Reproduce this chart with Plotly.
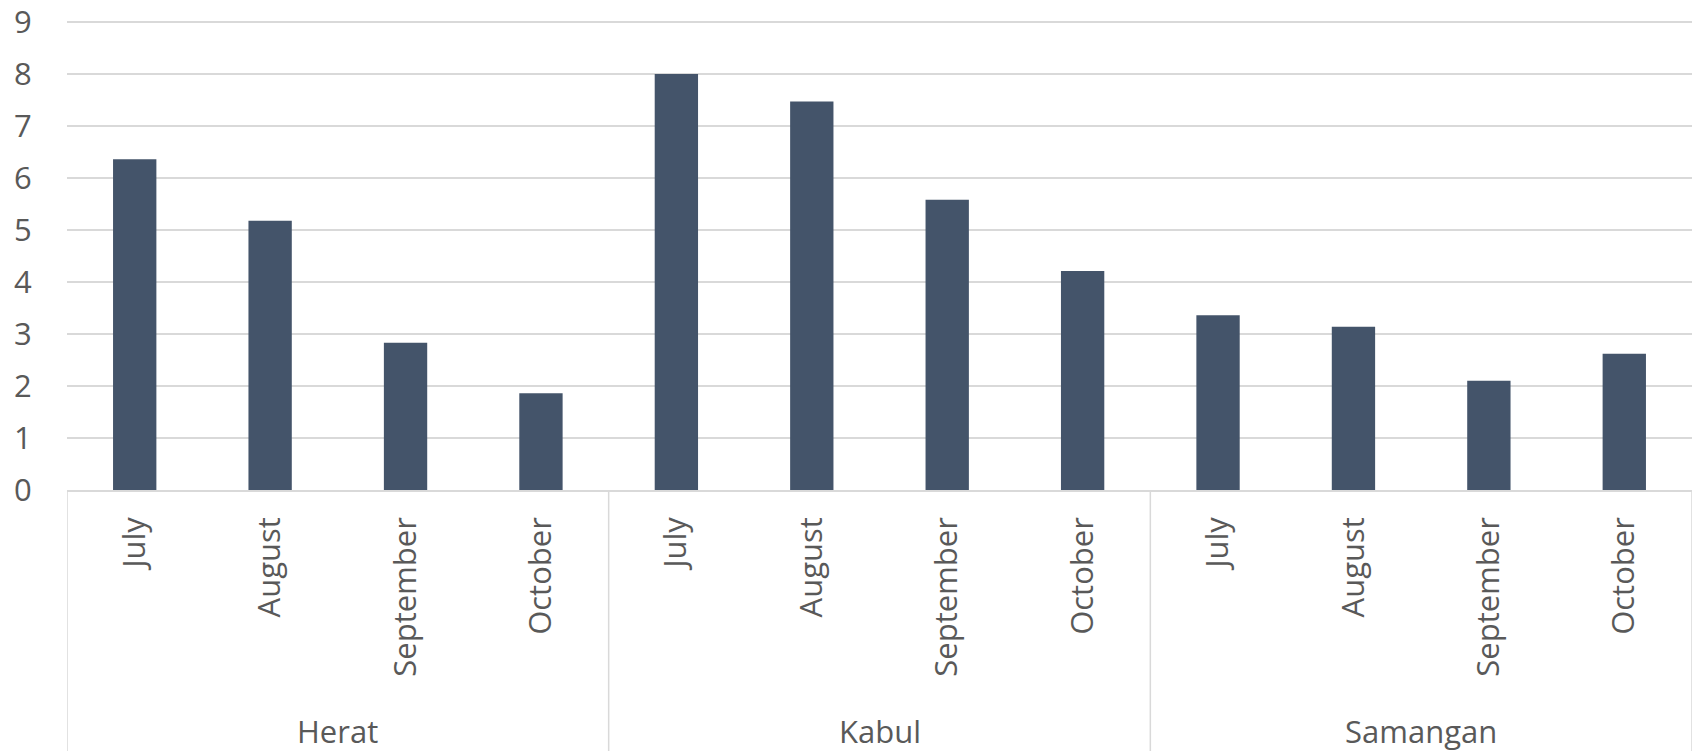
import plotly.graph_objects as go

regions = ["Herat", "Kabul", "Samangan"]
months = ["July", "August", "September", "October"]
herat = [6.36, 5.18, 2.83, 1.86]
kabul = [8.0, 7.47, 5.58, 4.21]
samangan = [3.36, 3.14, 2.10, 2.62]
y_ticks = [0, 1, 2, 3, 4, 5, 6, 7, 8, 9]

series = [herat, kabul, samangan]
values = [v for s in series for v in s]
labels = [m for _ in regions for m in months]
xpos = list(range(len(values)))

FONT = "Open Sans"
FS = 31
GRAY = "#595959"
LINE = "#d9d9d9"

fig = go.Figure()
fig.add_trace(go.Bar(
    x=xpos, y=values, width=0.32,
    marker=dict(color="#44546a", line=dict(width=0)),
    hoverinfo="y",
))

n = len(months)
shapes = []
annotations = []
for i, r in enumerate(regions):
    shapes.append(dict(type="line", xref="x", yref="paper",
                       x0=i * n - 0.5, x1=i * n - 0.5, y0=0, y1=-0.6,
                       line=dict(color=LINE, width=1.5)))
    annotations.append(dict(x=i * n + (n - 1) / 2, y=-0.512, xref="x", yref="paper",
                            text=r, showarrow=False, yanchor="middle",
                            font=dict(family=FONT, size=FS, color=GRAY)))
shapes.append(dict(type="line", xref="x", yref="paper",
                   x0=len(values) - 0.5, x1=len(values) - 0.5, y0=0, y1=-0.6,
                   line=dict(color=LINE, width=1.5)))

fig.update_layout(
    width=1698, height=751,
    margin=dict(l=67, r=6, t=20, b=261, autoexpand=False),
    paper_bgcolor="white", plot_bgcolor="white",
    showlegend=False,
    font=dict(family=FONT, size=FS, color=GRAY),
    bargap=0.68,
    shapes=shapes,
    annotations=annotations,
    xaxis=dict(
        range=[-0.5, len(values) - 0.5], automargin=False,
        tickmode="array", tickvals=xpos, ticktext=labels,
        tickangle=-90, showgrid=False, zeroline=False,
        showline=True, linecolor=LINE, linewidth=1.5,
        ticks="", ticklabelstandoff=13, ticklabeloverflow="allow",
        tickfont=dict(family=FONT, size=FS, color=GRAY),
    ),
    yaxis=dict(
        range=[0, 9 * 470 / 468], tickmode="array", tickvals=y_ticks,
        automargin=False,
        showgrid=True, gridcolor=LINE, gridwidth=1.5,
        zeroline=False, showline=False,
        ticks="outside", ticklen=28, tickcolor="rgba(0,0,0,0)",
        ticklabeloverflow="allow",
        tickfont=dict(family=FONT, size=FS, color=GRAY),
    ),
)

fig.write_html("out.html")
